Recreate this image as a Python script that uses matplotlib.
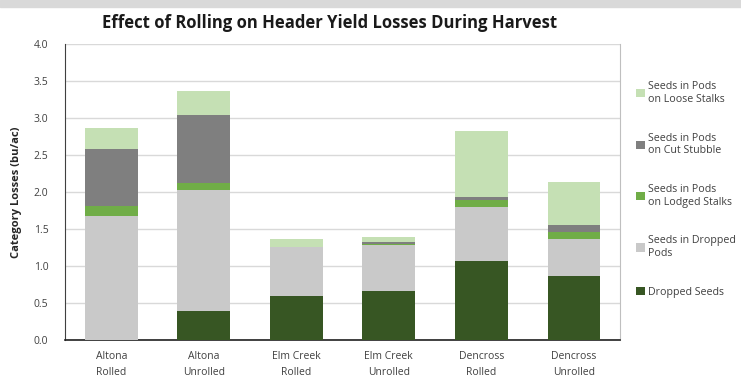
import numpy as np
import matplotlib.pyplot as plt
from matplotlib.patches import Rectangle

# Categories and stacked loss components (bu/ac)
sites = ["Altona\nRolled", "Altona\nUnrolled", "Elm Creek\nRolled",
         "Elm Creek\nUnrolled", "Dencross\nRolled", "Dencross\nUnrolled"]
dropped_seeds = [0.00, 0.39, 0.59, 0.66, 1.07, 0.87]
dropped_pods = [1.67, 1.64, 0.67, 0.62, 0.73, 0.49]
lodged_stalks = [0.14, 0.09, 0.00, 0.01, 0.09, 0.10]
cut_stubble = [0.77, 0.92, 0.00, 0.04, 0.04, 0.09]
loose_stalks = [0.29, 0.32, 0.10, 0.06, 0.89, 0.59]

series = [
    ("Dropped Seeds", dropped_seeds, "#375623"),
    ("Seeds in Dropped\nPods", dropped_pods, "#c9c9c9"),
    ("Seeds in Pods\non Lodged Stalks", lodged_stalks, "#70ad47"),
    ("Seeds in Pods\non Cut Stubble", cut_stubble, "#7f7f7f"),
    ("Seeds in Pods\non Loose Stalks", loose_stalks, "#c5e0b4"),
]

plt.rcParams['font.family'] = ['Open Sans', 'DejaVu Sans']

fig = plt.figure(figsize=(7.41, 3.85), dpi=100)
# grey strip along the top edge
fig.patches.append(Rectangle((0, 0.982), 1, 0.018, transform=fig.transFigure,
                             color="#d9d9d9", zorder=0))
ax = fig.add_axes([0.0877, 0.117, 0.7493, 0.769])

x = np.arange(len(sites))
bottom = np.zeros(len(sites))
handles = []
for label, vals, color in series:
    b = ax.bar(x, vals, width=0.57, bottom=bottom, color=color, label=label, zorder=3)
    handles.append(b)
    bottom += np.array(vals)

ax.set_ylim(0, 4.0)
ax.set_yticks(np.arange(0, 4.01, 0.5))
ax.set_yticklabels([f"{v:.1f}" for v in np.arange(0, 4.01, 0.5)], fontsize=7.5, color="#404040")
ax.set_xlim(-0.5, len(sites) - 0.5)
ax.set_xticks(x)
ax.set_xticklabels(sites, fontsize=7.5, color="#404040", linespacing=1.6)
ax.tick_params(axis='x', length=0, pad=8)
ax.tick_params(axis='y', length=0, pad=12)
ax.grid(axis='y', color="#d9d9d9", linewidth=1, zorder=0)
ax.spines['top'].set_visible(False)
ax.spines['right'].set_color("#bfbfbf")
ax.spines['left'].set_color("#404040")
ax.spines['bottom'].set_color("#202020")
ax.spines['bottom'].set_linewidth(1.2)

ax.set_ylabel("Category Losses (bu/ac)", fontsize=8, fontweight='bold', color="#262626",
              labelpad=8)
fig.text(0.445, 0.94, "Effect of Rolling on Header Yield Losses During Harvest",
         ha='center', va='center', fontsize=12, fontweight='bold', color="#1a1a1a")

leg = fig.legend(handles[::-1], [s[0] for s in series][::-1], loc='upper left',
                 bbox_to_anchor=(0.853, 0.80), frameon=False, fontsize=7.7,
                 handlelength=0.8, handleheight=0.8, handletextpad=0.3,
                 labelspacing=2.6, borderaxespad=0)
for t in leg.get_texts():
    t.set_color("#404040")

plt.savefig("out.png", dpi=100)
